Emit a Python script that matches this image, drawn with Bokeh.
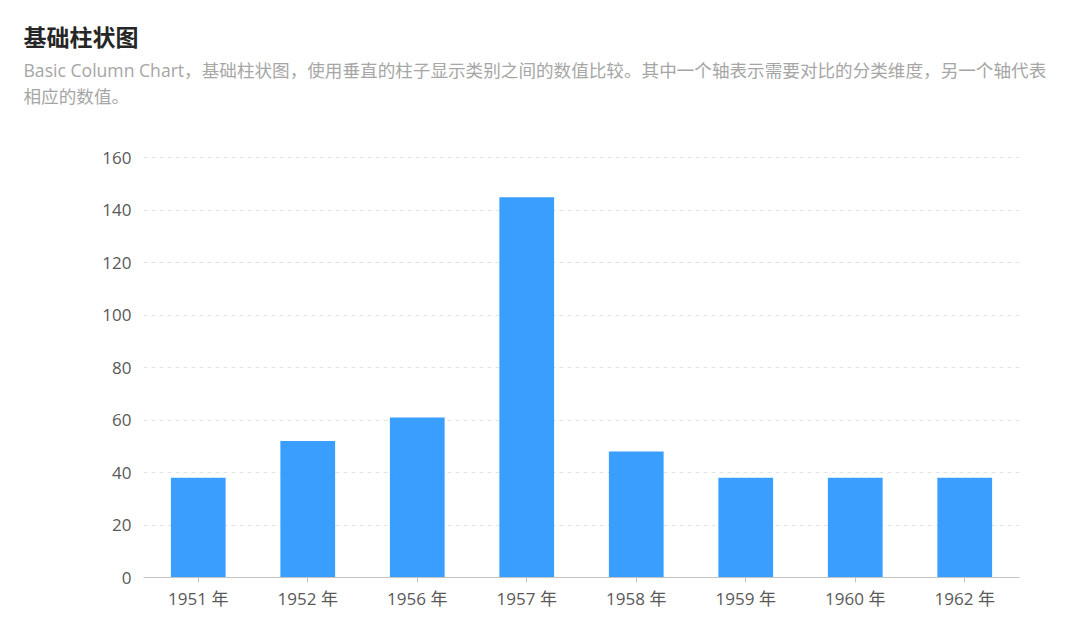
from bokeh.plotting import figure
from bokeh.models import FixedTicker, Title
from bokeh.embed import file_html
from bokeh.resources import INLINE

categories = ["1951 年", "1952 年", "1956 年", "1957 年", "1958 年", "1959 年", "1960 年", "1962 年"]
values = [38, 52, 61, 145, 48, 38, 38, 38]
y_ticks = [0, 20, 40, 60, 80, 100, 120, 140, 160]

title_text = "基础柱状图"
subtitle_lines = [
    "Basic Column Chart，基础柱状图，使用垂直的柱子显示类别之间的数值比较。其中一个轴表示需要对比的分类维度，另一个轴代表",
    "相应的数值。",
]

FONT = "'Open Sans', 'Noto Sans CJK SC'"
CJK = "Noto Sans CJK SC"

# frame extends above the 160 line (empty headroom) so the header sits right
p = figure(width=1064, height=627, x_range=categories, y_range=(0, 179.2),
           output_backend="svg", toolbar_location=None, title=None,
           min_border_left=143, min_border_right=45, min_border_top=0, min_border_bottom=50)
p.x_range.range_padding = 0

# header texts, stacked outward from the plot: last description line first
p.add_layout(Title(text=subtitle_lines[1], align="left", offset=-120, standoff=0,
                   text_font=FONT, text_font_size="17.6px", text_font_style="normal",
                   text_color="#a6a6a6"), "above")
p.add_layout(Title(text=subtitle_lines[0], align="left", offset=-120, standoff=0,
                   text_font=FONT, text_font_size="17.6px", text_font_style="normal",
                   text_color="#a6a6a6"), "above")
p.add_layout(Title(text=title_text, align="left", offset=-120, standoff=6,
                   text_font=CJK, text_font_size="23px", text_font_style="bold",
                   text_color="#262626"), "above")
# top spacer
p.add_layout(Title(text=" ", align="left", standoff=10, text_font_size="1px"), "above")

p.vbar(x=categories, top=values, width=0.5, color="#3A9EFF", line_color=None)

p.outline_line_color = None
p.xgrid.grid_line_color = None
p.ygrid.grid_line_color = "#e3e3e3"
p.ygrid.grid_line_dash = "4 4"
p.ygrid.grid_line_width = 1
p.yaxis.ticker = FixedTicker(ticks=y_ticks)

p.xaxis.axis_line_color = "#c4c4c4"
p.xaxis.major_tick_line_color = "#c4c4c4"
p.xaxis.major_tick_out = 5
p.xaxis.major_tick_in = 0
p.xaxis.minor_tick_line_color = None
p.xaxis.major_label_standoff = 4
p.xaxis.major_label_text_font = FONT
p.xaxis.major_label_text_font_size = "17px"
p.xaxis.major_label_text_color = "#595959"

p.yaxis.axis_line_color = None
p.yaxis.major_tick_line_color = None
p.yaxis.minor_tick_line_color = None
p.yaxis.major_tick_out = 0
p.yaxis.major_tick_in = 0
p.yaxis.major_label_standoff = 12
p.yaxis.major_label_text_font = FONT
p.yaxis.major_label_text_font_size = "17px"
p.yaxis.major_label_text_color = "#595959"

open("out.html", "w").write(file_html(p, INLINE))
